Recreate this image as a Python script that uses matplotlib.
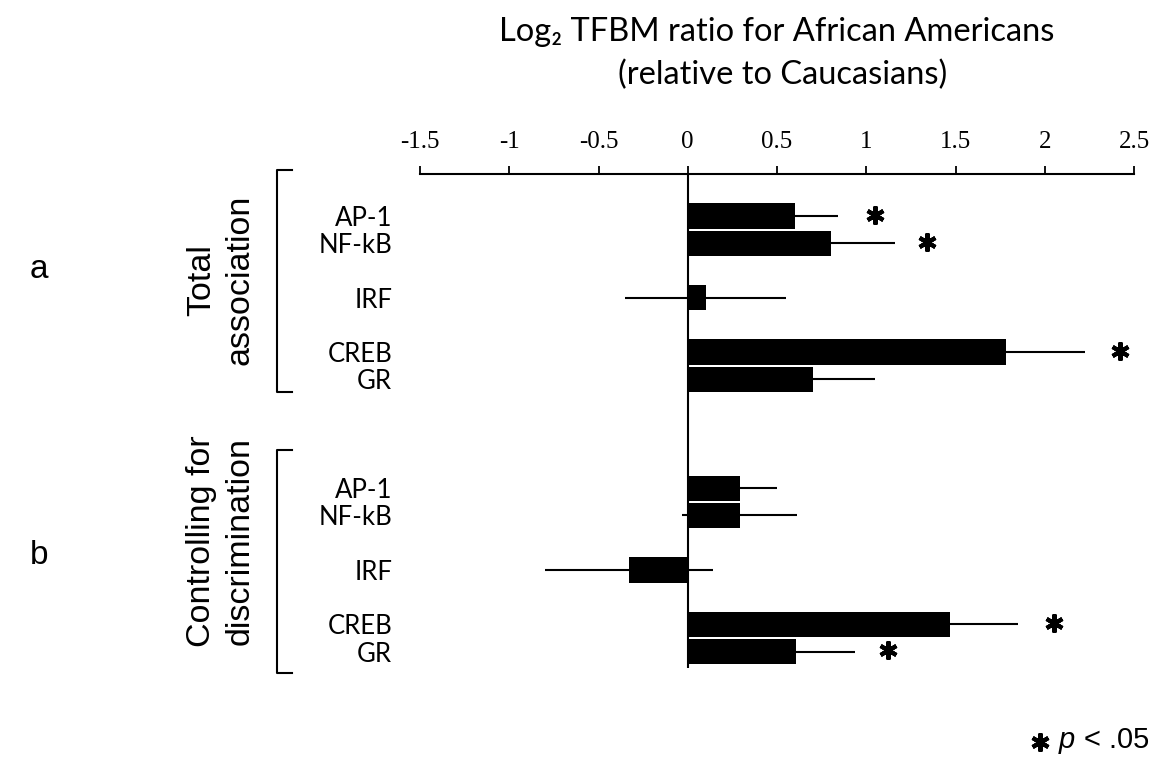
"""Horizontal bar chart of log2 TFBM ratios, total vs. discrimination-adjusted."""
import matplotlib

matplotlib.use("Agg")
import matplotlib.pyplot as plt
from matplotlib.lines import Line2D

# --- data ---------------------------------------------------------------
factors = ["AP-1", "NF-kB", "IRF", "CREB", "GR"]

total_ratio = [0.60, 0.80, 0.10, 1.785, 0.70]
total_err = [0.24, 0.36, 0.45, 0.44, 0.35]
total_star_x = [1.05, 1.34, None, 2.42, None]

adjusted_ratio = [0.29, 0.29, -0.33, 1.47, 0.605]
adjusted_err = [0.21, 0.32, 0.47, 0.38, 0.33]
adjusted_star_x = [None, None, None, 2.05, 1.12]

x_ticks = [-1.5, -1, -0.5, 0, 0.5, 1, 1.5, 2, 2.5]
x_tick_labels = ["-1.5", "-1", "-0.5", "0", "0.5", "1", "1.5", "2", "2.5"]

# --- layout ---------------------------------------------------------------
W, H = 1166, 762
ROW_SLOTS = [0, 1, 3, 5, 6]      # blank slots between factor pairs
GROUP_OFFSET = [0, 10]           # second panel starts ten slots lower

plt.rcParams["mathtext.fontset"] = "custom"
plt.rcParams["mathtext.rm"] = "Liberation Sans"
plt.rcParams["mathtext.it"] = "Liberation Sans:italic"

LABEL_FONT = ["Lato", "DejaVu Sans"]
SANS = ["Liberation Sans", "DejaVu Sans"]
STAR = dict(marker=(6, 2, 0), markersize=13, markeredgewidth=3, color="black")


def fx(px):
    return px / W


def fy(py):
    return 1 - py / H


fig = plt.figure(figsize=(W / 100, H / 100), dpi=100)
ax = fig.add_axes([fx(420), fy(668), fx(1134) - fx(420), fy(174) - fy(668)])

ytick_pos, ytick_lab = [], []
groups = [
    (total_ratio, total_err, total_star_x),
    (adjusted_ratio, adjusted_err, adjusted_star_x),
]
for offset, (ratio, err, stars) in zip(GROUP_OFFSET, groups):
    ys = [offset + s for s in ROW_SLOTS]
    ax.barh(
        ys,
        ratio,
        height=0.93,
        color="black",
        xerr=err,
        error_kw=dict(ecolor="black", elinewidth=1.5, capsize=0),
    )
    for y, sx in zip(ys, stars):
        if sx is not None:
            ax.plot(sx, y - 0.05, clip_on=False, **STAR)
    ytick_pos += ys
    ytick_lab += factors

ax.axvline(0, color="black", lw=1.5)
ax.set_xlim(-1.5, 2.5)
ax.set_ylim(16.6, -1.54)

ax.xaxis.tick_top()
ax.set_xticks(x_ticks)
ax.set_xticklabels(x_tick_labels, family="Liberation Serif", fontsize=18)
ax.tick_params(axis="x", direction="out", length=6, width=1.3, pad=9)
ax.set_yticks(ytick_pos)
ax.set_yticklabels(ytick_lab, family=LABEL_FONT, fontsize=18.5)
ax.tick_params(axis="y", length=0, pad=20)
for side in ("left", "right", "bottom"):
    ax.spines[side].set_visible(False)
ax.spines["top"].set_linewidth(1.5)

# title above the top axis
fig.text(fx(777), fy(32), "Log\u2082 TFBM ratio for African Americans",
         family=LABEL_FONT, fontsize=23.5, ha="center", va="center")
fig.text(fx(783), fy(75), "(relative to Caucasians)",
         family=LABEL_FONT, fontsize=23.5, ha="center", va="center")

# panel brackets and group labels
for top, bottom in [(170, 392), (450, 673)]:
    fig.add_artist(Line2D([fx(292), fx(277), fx(277), fx(292)],
                          [fy(top), fy(top), fy(bottom), fy(bottom)],
                          color="black", lw=1.5))

fig.text(fx(221), fy(280), "Total\nassociation", rotation=90,
         family=SANS, fontsize=24.5, ha="center", va="center", linespacing=1.3)
fig.text(fx(221), fy(541), "Controlling for\ndiscrimination", rotation=90,
         family=SANS, fontsize=24.5, ha="center", va="center", linespacing=1.3)

fig.text(fx(30), fy(270), "a", family=SANS, fontsize=24, va="center")
fig.text(fx(30), fy(555), "b", family=SANS, fontsize=24, va="center")

# significance key
fig.add_artist(Line2D([fx(1040)], [fy(742)], **STAR))
fig.text(fx(1058), fy(741), "$p$ < .05", family=SANS, fontsize=21,
         ha="left", va="center")

fig.savefig("out.png", dpi=100)
